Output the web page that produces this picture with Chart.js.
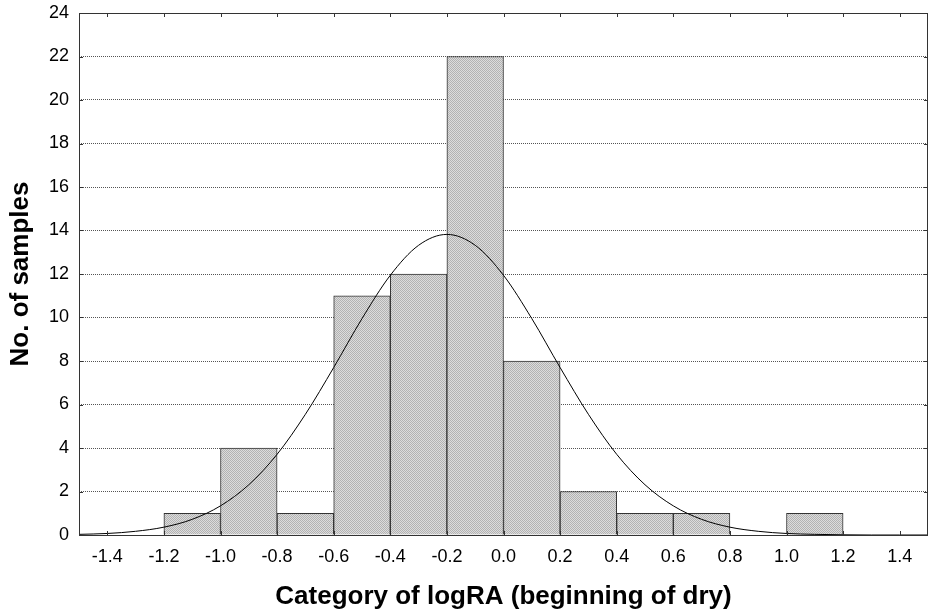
<!DOCTYPE html>
<html>
<head>
<meta charset="utf-8">
<script src="https://cdn.jsdelivr.net/npm/chart.js@4/dist/chart.umd.min.js"></script>
<style>
  html, body { margin: 0; padding: 0; background: #fff; }
  #wrap { width: 928px; height: 615px; }
</style>
</head>
<body>
<div id="wrap"><canvas id="histChart" width="928" height="615"></canvas></div>
<script>
// Bin centres of the histogram (bin width 0.2) and counts per bin
const binCenters = [-1.1, -0.9, -0.7, -0.5, -0.3, -0.1, 0.1, 0.3, 0.5, 0.7, 0.9, 1.1];
const binCounts  = [1, 4, 1, 11, 12, 22, 8, 2, 1, 1, 0, 1];

// Fitted normal curve
const curveX = [-1.5, -1.4, -1.3, -1.2, -1.1, -1.0, -0.9, -0.8, -0.7, -0.6, -0.5, -0.4, -0.3, -0.2,
                -0.1, 0.0, 0.1, 0.2, 0.3, 0.4, 0.5, 0.6, 0.7, 0.8, 0.9, 1.0, 1.1, 1.2, 1.3, 1.4, 1.5];
const curveY = [0.03, 0.07, 0.17, 0.36, 0.72, 1.34, 2.31, 3.71, 5.55, 7.70, 9.95, 11.94, 13.32, 13.82,
                13.32, 11.94, 9.95, 7.70, 5.55, 3.71, 2.31, 1.34, 0.72, 0.36, 0.17, 0.07, 0.03, 0.01, 0.0, 0.0, 0.0];

// Axis tick labels
const xTicks = [-1.4, -1.2, -1.0, -0.8, -0.6, -0.4, -0.2, 0.0, 0.2, 0.4, 0.6, 0.8, 1.0, 1.2, 1.4];
const yTicks = [0, 2, 4, 6, 8, 10, 12, 14, 16, 18, 20, 22, 24];

Chart.defaults.font.family = '"Liberation Sans", Arial, sans-serif';
Chart.defaults.color = '#000';

// small checker pattern like the grey hatch of the bars
function makePattern() {
    const c = document.createElement('canvas');
    c.width = 2; c.height = 2;
    const g = c.getContext('2d');
    g.fillStyle = '#dcdcdc';
    g.fillRect(0, 0, 2, 2);
    g.fillStyle = '#b2b2b2';
    g.fillRect(0, 0, 1, 1);
    g.fillRect(1, 1, 1, 1);
    return g.createPattern(c, 'repeat');
}

// frame round the plot plus the short inward tick marks
const framePlugin = {
    id: 'frame',
    afterDraw(chart) {
        const { ctx, chartArea: a, scales } = chart;
        ctx.save();
        ctx.strokeStyle = '#333';
        ctx.lineWidth = 1;
        ctx.beginPath();
        xTicks.forEach(v => {
            const px = Math.round(scales.x.getPixelForValue(v)) + 0.5;
            ctx.moveTo(px, a.bottom); ctx.lineTo(px, a.bottom - 4);
            ctx.moveTo(px, a.top); ctx.lineTo(px, a.top + 4);
        });
        yTicks.forEach(v => {
            const py = Math.round(scales.y.getPixelForValue(v)) + 0.5;
            ctx.moveTo(a.left, py); ctx.lineTo(a.left + 4, py);
            ctx.moveTo(a.right, py); ctx.lineTo(a.right - 4, py);
        });
        ctx.stroke();
        ctx.strokeRect(Math.round(a.left) + 0.5, Math.round(a.top) + 0.5,
                       Math.round(a.right - a.left) - 1, Math.round(a.bottom - a.top));
        ctx.restore();
    }
};

new Chart(document.getElementById('histChart').getContext('2d'), {
    data: {
        datasets: [
            {
                type: 'line',
                data: curveX.map((x, i) => ({ x: x, y: curveY[i] })),
                borderColor: '#000',
                borderWidth: 1,
                pointRadius: 0,
                cubicInterpolationMode: 'monotone',
                fill: false,
                order: 0
            },
            {
                type: 'bar',
                data: binCenters.map((x, i) => ({ x: x, y: binCounts[i] })),
                backgroundColor: makePattern(),
                borderColor: '#333',
                borderWidth: 1,
                barPercentage: 1,
                categoryPercentage: 1,
                grouped: false,
                order: 1
            }
        ]
    },
    options: {
        responsive: false,
        animation: false,
        events: [],
        layout: { padding: { top: 13, right: 0, left: 0, bottom: 0 } },
        plugins: { legend: { display: false }, tooltip: { enabled: false } },
        scales: {
            x: {
                type: 'linear',
                min: -1.5,
                max: 1.5,
                offset: false,
                afterBuildTicks: s => { s.ticks = xTicks.map(v => ({ value: v })); },
                afterFit: s => { s.height = 80; s.paddingLeft = 0; s.paddingRight = 0; },
                grid: { display: false, drawTicks: false },
                border: { display: false },
                ticks: {
                    padding: 11,
                    font: { size: 18 },
                    callback: v => v.toFixed(1)
                },
                title: {
                    display: true,
                    text: 'Category of logRA (beginning of dry)',
                    font: { size: 26, weight: 'bold' },
                    padding: { top: 0, bottom: 3 }
                }
            },
            y: {
                min: 0,
                max: 24,
                afterBuildTicks: s => { s.ticks = yTicks.map(v => ({ value: v })); },
                afterFit: s => { s.width = 79; s.paddingTop = 0; s.paddingBottom = 0; },
                grid: {
                    color: '#555',
                    drawTicks: false,
                    lineWidth: 1
                },
                border: { display: false, dash: [1, 1] },
                ticks: { padding: 10, font: { size: 18 } },
                title: {
                    display: true,
                    text: 'No. of samples',
                    font: { size: 26, weight: 'bold' },
                    padding: { top: 5, bottom: 0 }
                }
            }
        }
    },
    plugins: [framePlugin]
});
</script>
</body>
</html>
